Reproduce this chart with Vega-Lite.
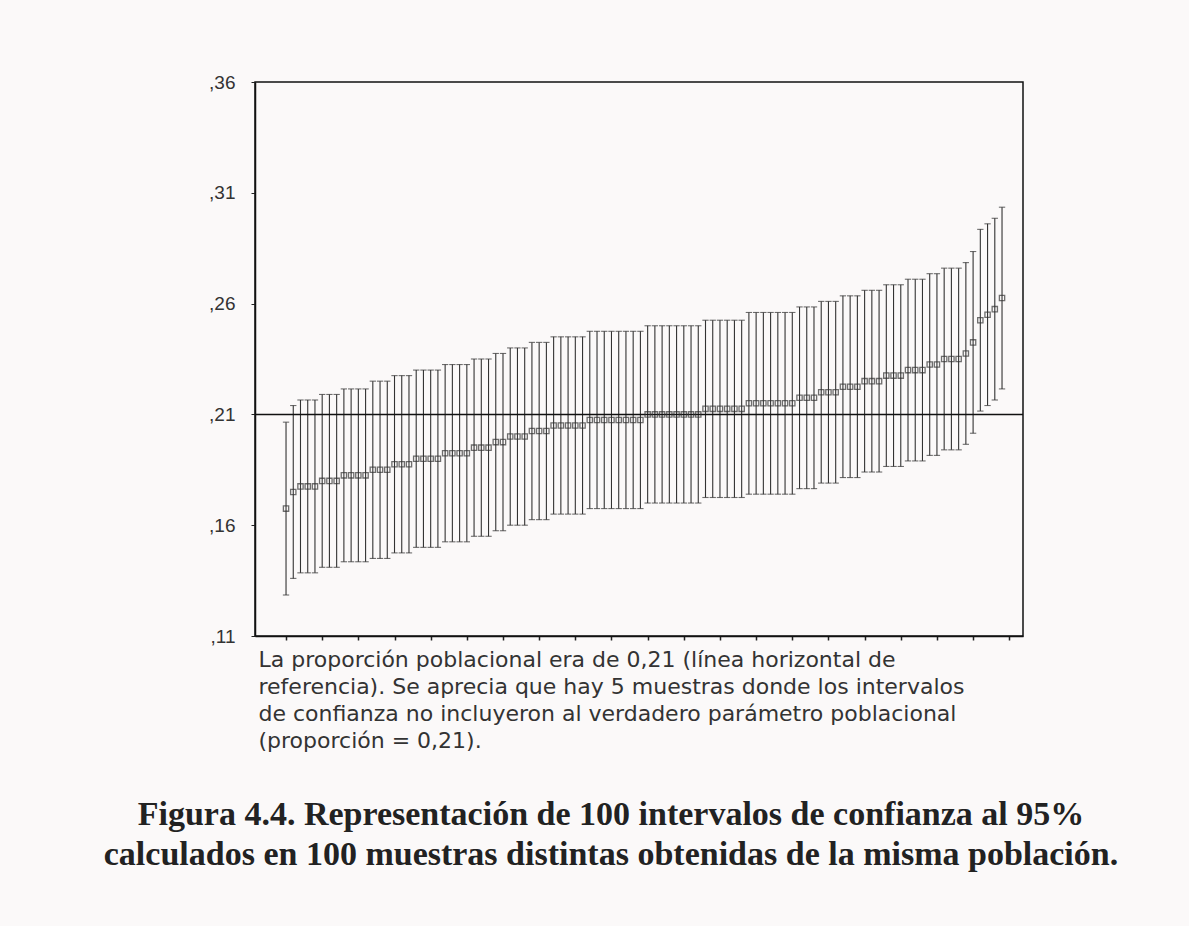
{
  "$schema": "https://vega.github.io/schema/vega-lite/v6.json",
  "autosize": {"type": "none"},
  "padding": {"left": 255, "top": 82, "right": 166, "bottom": 290},
  "width": 768,
  "height": 554,
  "background": "#fbf9f9",
  "config": {
    "view": {"stroke": "#111", "strokeWidth": 1.5},
    "font": "Liberation Sans"
  },
  "title": {
    "text": ["Figura 4.4. Representación de 100 intervalos de confianza al 95%", "calculados en 100 muestras distintas obtenidas de la misma población."],
    "orient": "bottom",
    "anchor": "middle",
    "frame": "group",
    "dx": -28,
    "offset": 46,
    "font": "Liberation Serif",
    "fontSize": 34,
    "fontWeight": "bold",
    "lineHeight": 40,
    "color": "#222"
  },
  "data": {
    "values": [
      {"i": 1, "p": 0.1675, "lo": 0.1285, "hi": 0.2065},
      {"i": 2, "p": 0.175, "lo": 0.136, "hi": 0.214},
      {"i": 3, "p": 0.1775, "lo": 0.1385, "hi": 0.2165},
      {"i": 4, "p": 0.1775, "lo": 0.1385, "hi": 0.2165},
      {"i": 5, "p": 0.1775, "lo": 0.1385, "hi": 0.2165},
      {"i": 6, "p": 0.18, "lo": 0.141, "hi": 0.219},
      {"i": 7, "p": 0.18, "lo": 0.141, "hi": 0.219},
      {"i": 8, "p": 0.18, "lo": 0.141, "hi": 0.219},
      {"i": 9, "p": 0.1825, "lo": 0.1435, "hi": 0.2215},
      {"i": 10, "p": 0.1825, "lo": 0.1435, "hi": 0.2215},
      {"i": 11, "p": 0.1825, "lo": 0.1435, "hi": 0.2215},
      {"i": 12, "p": 0.1825, "lo": 0.1435, "hi": 0.2215},
      {"i": 13, "p": 0.185, "lo": 0.145, "hi": 0.225},
      {"i": 14, "p": 0.185, "lo": 0.145, "hi": 0.225},
      {"i": 15, "p": 0.185, "lo": 0.145, "hi": 0.225},
      {"i": 16, "p": 0.1875, "lo": 0.1475, "hi": 0.2275},
      {"i": 17, "p": 0.1875, "lo": 0.1475, "hi": 0.2275},
      {"i": 18, "p": 0.1875, "lo": 0.1475, "hi": 0.2275},
      {"i": 19, "p": 0.19, "lo": 0.15, "hi": 0.23},
      {"i": 20, "p": 0.19, "lo": 0.15, "hi": 0.23},
      {"i": 21, "p": 0.19, "lo": 0.15, "hi": 0.23},
      {"i": 22, "p": 0.19, "lo": 0.15, "hi": 0.23},
      {"i": 23, "p": 0.1925, "lo": 0.1525, "hi": 0.2325},
      {"i": 24, "p": 0.1925, "lo": 0.1525, "hi": 0.2325},
      {"i": 25, "p": 0.1925, "lo": 0.1525, "hi": 0.2325},
      {"i": 26, "p": 0.1925, "lo": 0.1525, "hi": 0.2325},
      {"i": 27, "p": 0.195, "lo": 0.155, "hi": 0.235},
      {"i": 28, "p": 0.195, "lo": 0.155, "hi": 0.235},
      {"i": 29, "p": 0.195, "lo": 0.155, "hi": 0.235},
      {"i": 30, "p": 0.1975, "lo": 0.1575, "hi": 0.2375},
      {"i": 31, "p": 0.1975, "lo": 0.1575, "hi": 0.2375},
      {"i": 32, "p": 0.2, "lo": 0.16, "hi": 0.24},
      {"i": 33, "p": 0.2, "lo": 0.16, "hi": 0.24},
      {"i": 34, "p": 0.2, "lo": 0.16, "hi": 0.24},
      {"i": 35, "p": 0.2025, "lo": 0.1625, "hi": 0.2425},
      {"i": 36, "p": 0.2025, "lo": 0.1625, "hi": 0.2425},
      {"i": 37, "p": 0.2025, "lo": 0.1625, "hi": 0.2425},
      {"i": 38, "p": 0.205, "lo": 0.165, "hi": 0.245},
      {"i": 39, "p": 0.205, "lo": 0.165, "hi": 0.245},
      {"i": 40, "p": 0.205, "lo": 0.165, "hi": 0.245},
      {"i": 41, "p": 0.205, "lo": 0.165, "hi": 0.245},
      {"i": 42, "p": 0.205, "lo": 0.165, "hi": 0.245},
      {"i": 43, "p": 0.2075, "lo": 0.1675, "hi": 0.2475},
      {"i": 44, "p": 0.2075, "lo": 0.1675, "hi": 0.2475},
      {"i": 45, "p": 0.2075, "lo": 0.1675, "hi": 0.2475},
      {"i": 46, "p": 0.2075, "lo": 0.1675, "hi": 0.2475},
      {"i": 47, "p": 0.2075, "lo": 0.1675, "hi": 0.2475},
      {"i": 48, "p": 0.2075, "lo": 0.1675, "hi": 0.2475},
      {"i": 49, "p": 0.2075, "lo": 0.1675, "hi": 0.2475},
      {"i": 50, "p": 0.2075, "lo": 0.1675, "hi": 0.2475},
      {"i": 51, "p": 0.21, "lo": 0.17, "hi": 0.25},
      {"i": 52, "p": 0.21, "lo": 0.17, "hi": 0.25},
      {"i": 53, "p": 0.21, "lo": 0.17, "hi": 0.25},
      {"i": 54, "p": 0.21, "lo": 0.17, "hi": 0.25},
      {"i": 55, "p": 0.21, "lo": 0.17, "hi": 0.25},
      {"i": 56, "p": 0.21, "lo": 0.17, "hi": 0.25},
      {"i": 57, "p": 0.21, "lo": 0.17, "hi": 0.25},
      {"i": 58, "p": 0.21, "lo": 0.17, "hi": 0.25},
      {"i": 59, "p": 0.2125, "lo": 0.1725, "hi": 0.2525},
      {"i": 60, "p": 0.2125, "lo": 0.1725, "hi": 0.2525},
      {"i": 61, "p": 0.2125, "lo": 0.1725, "hi": 0.2525},
      {"i": 62, "p": 0.2125, "lo": 0.1725, "hi": 0.2525},
      {"i": 63, "p": 0.2125, "lo": 0.1725, "hi": 0.2525},
      {"i": 64, "p": 0.2125, "lo": 0.1725, "hi": 0.2525},
      {"i": 65, "p": 0.215, "lo": 0.174, "hi": 0.256},
      {"i": 66, "p": 0.215, "lo": 0.174, "hi": 0.256},
      {"i": 67, "p": 0.215, "lo": 0.174, "hi": 0.256},
      {"i": 68, "p": 0.215, "lo": 0.174, "hi": 0.256},
      {"i": 69, "p": 0.215, "lo": 0.174, "hi": 0.256},
      {"i": 70, "p": 0.215, "lo": 0.174, "hi": 0.256},
      {"i": 71, "p": 0.215, "lo": 0.174, "hi": 0.256},
      {"i": 72, "p": 0.2175, "lo": 0.1765, "hi": 0.2585},
      {"i": 73, "p": 0.2175, "lo": 0.1765, "hi": 0.2585},
      {"i": 74, "p": 0.2175, "lo": 0.1765, "hi": 0.2585},
      {"i": 75, "p": 0.22, "lo": 0.179, "hi": 0.261},
      {"i": 76, "p": 0.22, "lo": 0.179, "hi": 0.261},
      {"i": 77, "p": 0.22, "lo": 0.179, "hi": 0.261},
      {"i": 78, "p": 0.2225, "lo": 0.1815, "hi": 0.2635},
      {"i": 79, "p": 0.2225, "lo": 0.1815, "hi": 0.2635},
      {"i": 80, "p": 0.2225, "lo": 0.1815, "hi": 0.2635},
      {"i": 81, "p": 0.225, "lo": 0.184, "hi": 0.266},
      {"i": 82, "p": 0.225, "lo": 0.184, "hi": 0.266},
      {"i": 83, "p": 0.225, "lo": 0.184, "hi": 0.266},
      {"i": 84, "p": 0.2275, "lo": 0.1865, "hi": 0.2685},
      {"i": 85, "p": 0.2275, "lo": 0.1865, "hi": 0.2685},
      {"i": 86, "p": 0.2275, "lo": 0.1865, "hi": 0.2685},
      {"i": 87, "p": 0.23, "lo": 0.189, "hi": 0.271},
      {"i": 88, "p": 0.23, "lo": 0.189, "hi": 0.271},
      {"i": 89, "p": 0.23, "lo": 0.189, "hi": 0.271},
      {"i": 90, "p": 0.2325, "lo": 0.1915, "hi": 0.2735},
      {"i": 91, "p": 0.2325, "lo": 0.1915, "hi": 0.2735},
      {"i": 92, "p": 0.235, "lo": 0.194, "hi": 0.276},
      {"i": 93, "p": 0.235, "lo": 0.194, "hi": 0.276},
      {"i": 94, "p": 0.235, "lo": 0.194, "hi": 0.276},
      {"i": 95, "p": 0.2375, "lo": 0.1965, "hi": 0.2785},
      {"i": 96, "p": 0.2425, "lo": 0.2015, "hi": 0.2835},
      {"i": 97, "p": 0.2525, "lo": 0.2115, "hi": 0.2935},
      {"i": 98, "p": 0.255, "lo": 0.214, "hi": 0.296},
      {"i": 99, "p": 0.2575, "lo": 0.2165, "hi": 0.2985},
      {"i": 100, "p": 0.2625, "lo": 0.2215, "hi": 0.3035}
    ]
  },
  "encoding": {
    "x": {
      "field": "i",
      "type": "quantitative",
      "scale": {"domain": [-3.29, 102.9], "nice": false, "zero": false},
      "axis": {
        "values": [1, 6, 11, 16, 21, 26, 31, 36, 41, 46, 51, 56, 61, 66, 71, 76, 81, 86, 91, 96, 101],
        "labels": false,
        "grid": false,
        "domainColor": "#111",
        "domainWidth": 1.5,
        "tickColor": "#222",
        "tickSize": 4,
        "tickWidth": 1.5,
        "title": [
          "La proporción poblacional era de 0,21 (línea horizontal de",
          "referencia). Se aprecia que hay 5 muestras donde los intervalos",
          "de confianza no incluyeron al verdadero parámetro poblacional",
          "(proporción = 0,21)."
        ],
        "titleFont": "DejaVu Sans",
        "titleFontSize": 22,
        "titleFontWeight": "normal",
        "titleColor": "#333",
        "titleAnchor": "start",
        "titleAlign": "left",
        "titleLineHeight": 27,
        "titlePadding": 9,
        "titleX": 3
      }
    }
  },
  "layer": [
    {
      "mark": {"type": "rule", "color": "#333", "strokeWidth": 1.1},
      "encoding": {
        "y": {
          "field": "lo",
          "type": "quantitative",
          "scale": {"domain": [0.11, 0.36], "nice": false, "zero": false},
          "axis": {
            "values": [0.11, 0.16, 0.21, 0.26, 0.31, 0.36],
            "labelExpr": "replace(format(datum.value, '.2f'), '0.', ',')",
            "labelFont": "Liberation Sans",
            "labelFontSize": 19,
            "labelColor": "#333",
            "labelPadding": 16,
            "grid": false,
            "domainColor": "#111",
            "domainWidth": 1.5,
            "tickColor": "#222",
            "tickSize": 4,
            "title": null
          }
        },
        "y2": {"field": "hi"}
      }
    },
    {
      "mark": {"type": "point", "shape": "M-1,0L1,0", "size": 40, "filled": false, "color": "#333", "strokeWidth": 1.1},
      "encoding": {"y": {"field": "lo", "type": "quantitative"}}
    },
    {
      "mark": {"type": "point", "shape": "M-1,0L1,0", "size": 40, "filled": false, "color": "#333", "strokeWidth": 1.1},
      "encoding": {"y": {"field": "hi", "type": "quantitative"}}
    },
    {
      "data": {"values": [{"ref": 0.21}]},
      "mark": {"type": "rule", "color": "#111", "strokeWidth": 1.5},
      "encoding": {"x": null, "y": {"field": "ref", "type": "quantitative"}}
    },
    {
      "mark": {"type": "point", "shape": "square", "size": 28, "filled": false, "color": "#333", "strokeWidth": 1.3},
      "encoding": {"y": {"field": "p", "type": "quantitative"}}
    }
  ]
}
